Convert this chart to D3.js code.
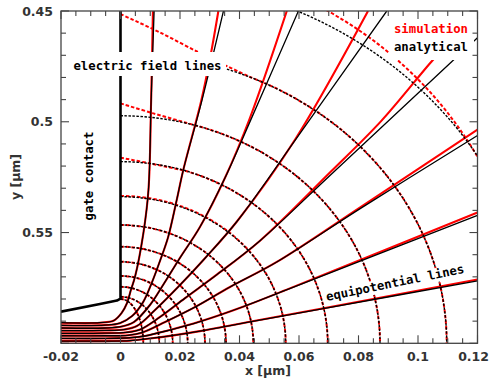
<!DOCTYPE html>
<html><head><meta charset="utf-8">
<script src="https://cdn.jsdelivr.net/npm/d3@7"></script>
<style>body{margin:0;background:#fff}svg{display:block}</style>
</head><body><svg id="c" width="490" height="381"></svg>
<script>
// ---------- data (x, y in µm) ----------
const xTickValues = [-0.02, 0, 0.02, 0.04, 0.06, 0.08, 0.1, 0.12];
const xTickLabels = ["-0.02", "0", "0.02", "0.04", "0.06", "0.08", "0.1", "0.12"];
const yTickValues = [0.45, 0.5, 0.55];
const yTickLabels = ["0.45", "0.5", "0.55"];

// gate contact outline
const gateOutline = [[0,0.45],[0,0.5798],[-0.0012,0.5807],[-0.0069,0.5823],[-0.02,0.5857]];

// equipotential lines, analytical
const eqAnalytical = [
 [[-0.02,0.5990],[-0.0052,0.5990],[0.0032,0.5988],[0.0099,0.5978],[0.0183,0.5963],[0.0267,0.5945],[0.0435,0.5903],[0.0687,0.5842],[0.12,0.5718]],
 [[-0.02,0.5978],[-0.0052,0.5978],[0.0032,0.5975],[0.0082,0.5967],[0.0166,0.5940],[0.0267,0.5902],[0.0412,0.5835],[0.0569,0.5753],[0.12,0.5423]],
 [[-0.02,0.5966],[-0.0052,0.5966],[0.0025,0.5964],[0.0072,0.5952],[0.0150,0.5904],[0.0250,0.5837],[0.0368,0.5746],[0.0524,0.5634],[0.0807,0.5391],[0.12,0.5062]],
 [[-0.02,0.5955],[-0.0052,0.5954],[0.0018,0.5951],[0.0066,0.5938],[0.0133,0.5881],[0.0217,0.5796],[0.0318,0.5696],[0.0468,0.5538],[0.0714,0.5230],[0.1114,0.4728],[0.12,0.4621]],
 [[-0.02,0.5943],[-0.0052,0.5942],[0.0012,0.5938],[0.0055,0.5922],[0.0116,0.5850],[0.0200,0.5737],[0.0284,0.5616],[0.0392,0.5449],[0.0588,0.5082],[0.0895,0.45]],
 [[-0.02,0.5931],[-0.0052,0.5931],[0.0005,0.5924],[0.0045,0.5904],[0.0099,0.5827],[0.0143,0.5737],[0.0200,0.5614],[0.0267,0.5475],[0.0351,0.5254],[0.0442,0.4979],[0.0598,0.45]],
 [[-0.02,0.5919],[-0.0052,0.5918],[-0.0002,0.5909],[0.0039,0.5877],[0.0076,0.5814],[0.0106,0.5724],[0.0136,0.5616],[0.0160,0.5521],[0.0189,0.5353],[0.0211,0.5218],[0.0274,0.4902],[0.0346,0.45]],
 [[-0.02,0.5907],[-0.0069,0.5907],[-0.0022,0.5897],[0.0004,0.5863],[0.0022,0.5818],[0.0035,0.5759],[0.0049,0.5699],[0.0077,0.5502],[0.0094,0.5308],[0.0103,0.4902],[0.0113,0.45]]
];
// equipotential lines, simulation
const eqSimulation = [
 [[-0.02,0.5990],[-0.0052,0.5990],[0.0032,0.5988],[0.0099,0.5978],[0.0183,0.5963],[0.0267,0.5945],[0.0435,0.5903],[0.0687,0.5841],[0.12,0.5712]],
 [[-0.02,0.5978],[-0.0052,0.5978],[0.0032,0.5975],[0.0082,0.5967],[0.0166,0.5940],[0.0267,0.5902],[0.0412,0.5835],[0.0569,0.5752],[0.12,0.5410]],
 [[-0.02,0.5966],[-0.0052,0.5966],[0.0025,0.5964],[0.0072,0.5952],[0.0150,0.5904],[0.0250,0.5837],[0.0368,0.5746],[0.0524,0.5634],[0.0807,0.5385],[0.12,0.5035]],
 [[-0.02,0.5955],[-0.0052,0.5954],[0.0018,0.5951],[0.0066,0.5938],[0.0133,0.5881],[0.0217,0.5796],[0.0318,0.5696],[0.0468,0.5538],[0.0704,0.5229],[0.0876,0.4997],[0.1050,0.4721],[0.1107,0.4640]],
 [[-0.02,0.5943],[-0.0052,0.5942],[0.0012,0.5938],[0.0055,0.5922],[0.0116,0.5850],[0.0200,0.5737],[0.0284,0.5616],[0.0392,0.5449],[0.0587,0.5080],[0.0832,0.45]],
 [[-0.02,0.5931],[-0.0052,0.5931],[0.0005,0.5924],[0.0045,0.5904],[0.0099,0.5827],[0.0143,0.5737],[0.0200,0.5614],[0.0267,0.5475],[0.0351,0.5254],[0.0435,0.4983],[0.0559,0.45]],
 [[-0.02,0.5919],[-0.0052,0.5918],[-0.0002,0.5909],[0.0039,0.5877],[0.0076,0.5814],[0.0106,0.5724],[0.0136,0.5616],[0.0160,0.5521],[0.0189,0.5353],[0.0211,0.5218],[0.0272,0.4902],[0.0303,0.4699],[0.0329,0.45]],
 [[-0.02,0.5907],[-0.0069,0.5907],[-0.0022,0.5897],[0.0004,0.5863],[0.0022,0.5818],[0.0035,0.5759],[0.0049,0.5699],[0.0077,0.5502],[0.0094,0.5308],[0.0103,0.4902],[0.0109,0.45]]
];

// electric field lines: start height on the gate side (x=0) and end position on the channel (y=0.6)
const fieldStartYAnalytical = [0.5800,0.5790,0.5745,0.5696,0.5632,0.5564,0.5466,0.5338,0.5180,0.4973,0.4691,0.4342];
const fieldEndXAnalytical   = [0.00766,0.01304,0.01755,0.02259,0.0284,0.03546,0.04464,0.05553,0.06965,0.08723,0.10965,0.1395];
const fieldStartYSimulation = [0.5800,0.5790,0.5745,0.5696,0.5632,0.5564,0.5466,0.5335,0.5180,0.4973,0.4691,0.4258];
const fieldEndXSimulation   = [0.00766,0.01304,0.01755,0.02259,0.0284,0.03546,0.04464,0.05553,0.06965,0.08723,0.10965,0.13708];
// simulated field lines that leave the gate differently near the top
const fieldLeadSim9  = [[0,0.5162],[0.00992,0.5188],[0.02111,0.5219]];
const fieldLeadSim10 = [[0,0.4917],[0.01103,0.4962],[0.02561,0.5018]];
const fieldLeadSim11 = [[0,0.4514],[0.01328,0.4597],[0.02672,0.4690],[0.03613,0.4751],[0.04353,0.4798]];

// ---------- drawing ----------
const W = 490, H = 381;
const svg = d3.select('#c');
const x = d3.scaleLinear().domain([-0.02, 0.12]).range([61, 477.5]);
const y = d3.scaleLinear().domain([0.45, 0.6]).range([11, 343.3]);
const X0 = x.range()[0], X1 = x.range()[1], Y0 = y.range()[0], Y1 = y.range()[1];

svg.append('rect').attr('width', W).attr('height', H).attr('fill', '#fff');
svg.append('clipPath').attr('id', 'clip').append('rect')
  .attr('x', X0).attr('y', Y0).attr('width', X1 - X0).attr('height', Y1 - Y0);
const g = svg.append('g').attr('clip-path', 'url(#clip)');

const line = d3.line().x(d => x(d[0])).y(d => y(d[1])).curve(d3.curveCatmullRom.alpha(0.5));

function fieldPath(ysA, xeA, ys, xe, lead) {
  const x0 = x(0), y0 = y(ys), x1 = x(xe), y1 = y(0.6);
  let rx = x1 - x0, ry = y1 - y0, d;
  if (lead) {
    rx = x(xeA) - x0; ry = y1 - y(ysA);
    d = line(lead);
  } else {
    d = `M${x0},${y0}`;
  }
  return d + `A${rx},${ry} 0 0 1 ${x1},${y1}`;
}
const leads = {8: fieldLeadSim9, 9: fieldLeadSim10, 10: fieldLeadSim11};

// simulation (red) underneath
fieldStartYSimulation.forEach((ys, i) => {
  g.append('path')
    .attr('d', fieldPath(fieldStartYAnalytical[i], fieldEndXAnalytical[i], ys, fieldEndXSimulation[i], leads[i]))
    .attr('fill', 'none').attr('stroke', '#ff0000').attr('stroke-width', 2)
    .attr('stroke-dasharray', '3.5,2');
});
eqSimulation.forEach(pts => {
  g.append('path').attr('d', line(pts)).attr('fill', 'none')
    .attr('stroke', '#ff0000').attr('stroke-width', 2.1);
});
// analytical (black)
fieldStartYAnalytical.forEach((ys, i) => {
  g.append('path')
    .attr('d', fieldPath(ys, fieldEndXAnalytical[i], ys, fieldEndXAnalytical[i], null))
    .attr('fill', 'none').attr('stroke', '#000').attr('stroke-width', 1.4)
    .attr('stroke-dasharray', '2.5,1.5');
});
eqAnalytical.forEach(pts => {
  g.append('path').attr('d', line(pts)).attr('fill', 'none')
    .attr('stroke', '#000').attr('stroke-width', 1.3);
});
// gate contact
g.append('path').attr('d', d3.line().x(d => x(d[0])).y(d => y(d[1]))(gateOutline))
  .attr('fill', 'none').attr('stroke', '#000').attr('stroke-width', 2.6)
  .attr('stroke-linejoin', 'round');

const mono = '"DejaVu Sans Mono", monospace';
const sans = '"DejaVu Sans", sans-serif';

// label: electric field lines
svg.append('rect').attr('x', 70).attr('y', 52).attr('width', 156).attr('height', 24).attr('fill', '#fff');
svg.append('text').attr('x', 147.5).attr('y', 70).attr('text-anchor', 'middle')
  .attr('font-family', mono).attr('font-weight', 'bold').attr('font-size', 12.3)
  .attr('fill', '#000').text('electric field lines');

// label: equipotential lines
const eqLab = svg.append('g').attr('transform', 'translate(327,301) rotate(-11.6)');
eqLab.append('rect').attr('x', -2).attr('y', -10.5).attr('width', 144).attr('height', 14).attr('fill', '#fff');
eqLab.append('text').attr('x', 0).attr('y', 0)
  .attr('font-family', mono).attr('font-weight', 'bold').attr('font-size', 12.3)
  .attr('fill', '#000').text('equipotential lines');

// legend
svg.append('rect').attr('x', 389).attr('y', Y0).attr('width', 85).attr('height', 49).attr('fill', '#fff');
svg.append('text').attr('x', 468).attr('y', 32.5).attr('text-anchor', 'end')
  .attr('font-family', mono).attr('font-weight', 'bold').attr('font-size', 12.3)
  .attr('fill', '#ff0000').text('simulation');
svg.append('text').attr('x', 468).attr('y', 51).attr('text-anchor', 'end')
  .attr('font-family', mono).attr('font-weight', 'bold').attr('font-size', 12.3)
  .attr('fill', '#000').text('analytical');

// gate contact label
svg.append('text').attr('transform', 'translate(93,176) rotate(-90)').attr('text-anchor', 'middle')
  .attr('font-family', mono).attr('font-weight', 'bold').attr('font-size', 12.3)
  .attr('fill', '#000').text('gate contact');

// frame and ticks
const axisColor = '#444';
svg.append('rect').attr('x', X0).attr('y', Y0).attr('width', X1 - X0).attr('height', Y1 - Y0)
  .attr('fill', 'none').attr('stroke', axisColor).attr('stroke-width', 1.3);

const xMinor = d3.range(-0.02, 0.12001, 0.005);
const yMinor = d3.range(0.45, 0.60001, 0.01);
const isMajor = (v, arr) => arr.some(a => Math.abs(a - v) < 1e-9);
const tk = svg.append('g').attr('stroke', axisColor).attr('stroke-width', 1.1);
xMinor.forEach(v => {
  const L = isMajor(v, xTickValues) ? 8 : 5;
  const px = x(v);
  tk.append('line').attr('x1', px).attr('x2', px).attr('y1', Y1).attr('y2', Y1 - L);
  tk.append('line').attr('x1', px).attr('x2', px).attr('y1', Y0).attr('y2', Y0 + L);
});
yMinor.forEach(v => {
  const L = isMajor(v, yTickValues.concat([0.6])) ? 8 : 5;
  const py = y(v);
  tk.append('line').attr('x1', X0).attr('x2', X0 + L).attr('y1', py).attr('y2', py);
  tk.append('line').attr('x1', X1).attr('x2', X1 - L).attr('y1', py).attr('y2', py);
});

xTickValues.forEach((v, i) => {
  const last = i === xTickValues.length - 1;
  svg.append('text').attr('x', last ? 489 : x(v)).attr('y', 361)
    .attr('text-anchor', last ? 'end' : 'middle')
    .attr('font-family', sans).attr('font-weight', 'bold').attr('font-size', 12.5)
    .attr('fill', '#333').text(xTickLabels[i]);
});
yTickValues.forEach((v, i) => {
  svg.append('text').attr('x', 53).attr('y', y(v) + 4.5).attr('text-anchor', 'end')
    .attr('font-family', sans).attr('font-weight', 'bold').attr('font-size', 12.5)
    .attr('fill', '#333').text(yTickLabels[i]);
});
svg.append('text').attr('x', 268).attr('y', 375).attr('text-anchor', 'middle')
  .attr('font-family', sans).attr('font-weight', 'bold').attr('font-size', 12.5)
  .attr('fill', '#333').text('x [µm]');
svg.append('text').attr('transform', 'translate(20,177) rotate(-90)').attr('text-anchor', 'middle')
  .attr('font-family', sans).attr('font-weight', 'bold').attr('font-size', 12.5)
  .attr('fill', '#333').text('y [µm]');
</script></body></html>
